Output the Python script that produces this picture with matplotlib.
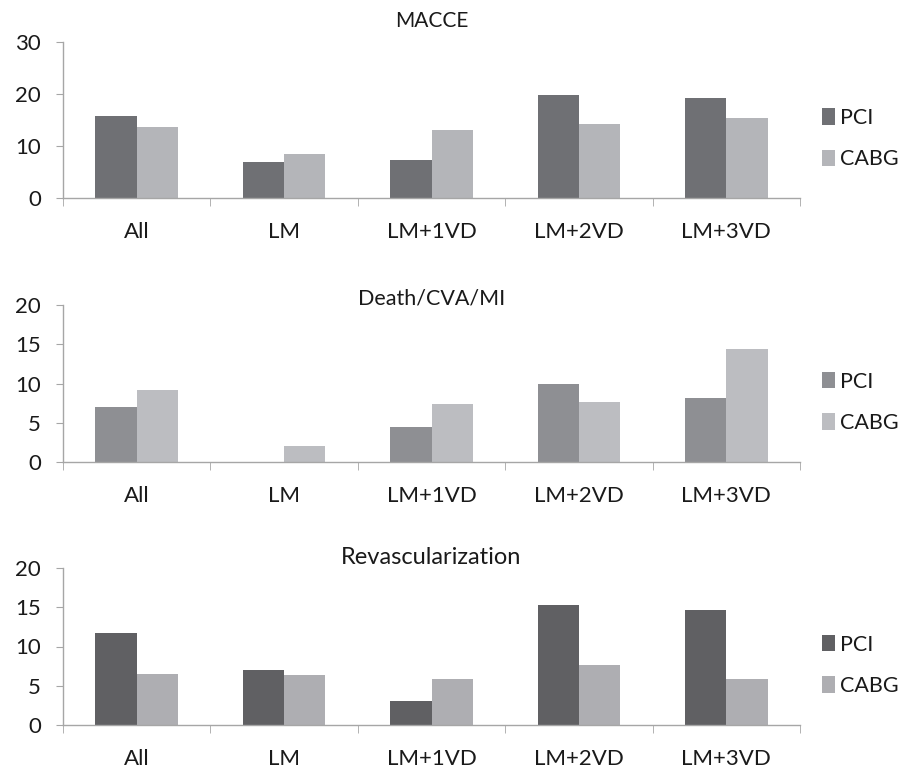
import matplotlib
matplotlib.use("Agg")
import matplotlib.pyplot as plt
import numpy as np

plt.rcParams['font.family'] = ['Lato', 'DejaVu Sans']

# data
categories = ['All', 'LM', 'LM+1VD', 'LM+2VD', 'LM+3VD']

macce_pci = [15.8, 7.0, 7.4, 19.8, 19.3]
macce_cabg = [13.6, 8.4, 13.1, 14.3, 15.4]

death_pci = [7.0, 0.0, 4.45, 9.9, 8.1]
death_cabg = [9.15, 2.1, 7.4, 7.6, 14.4]

revasc_pci = [11.7, 7.0, 3.0, 15.3, 14.7]
revasc_cabg = [6.5, 6.4, 5.8, 7.6, 5.9]

panels = [
    ('MACCE', macce_pci, macce_cabg, 30, 10, '#6f7074', '#b4b5b9', 42, 198, 21, 15),
    ('Death/CVA/MI', death_pci, death_cabg, 20, 5, '#8e8f93', '#bcbdc1', 305, 462, 299, 15.5),
    ('Revascularization', revasc_pci, revasc_cabg, 20, 5, '#606063', '#aeaeb2', 568, 725, 558, 17),
]

W, H = 908, 773
fig = plt.figure(figsize=(W / 100, H / 100), dpi=100)

x = np.arange(len(categories))
bw = 0.28
axis_col = '#a6a6a6'

for title, pci, cabg, ymax, ystep, c1, c2, ytop, ybot, ytitle, tsize in panels:
    left, right = 63, 800
    ax = fig.add_axes([left / W, 1 - ybot / H, (right - left) / W, (ybot - ytop) / H])
    ax.bar(x - bw / 2, pci, bw, color=c1, label='PCI')
    ax.bar(x + bw / 2, cabg, bw, color=c2, label='CABG')
    ax.set_xlim(-0.5, len(categories) - 0.5)
    ax.set_ylim(0, ymax)
    ax.set_yticks(np.arange(0, ymax + 1, ystep))
    ax.set_xticks(x)
    ax.set_xticklabels(categories)
    ax.set_xticks(np.arange(-0.5, len(categories)), minor=True)
    ax.tick_params(axis='x', which='major', length=0, pad=17, labelsize=16, labelcolor='#1a1a1a')
    ax.tick_params(axis='x', which='minor', length=6, color=axis_col, direction='out')
    ax.tick_params(axis='y', length=5, color=axis_col, pad=11, labelsize=16, labelcolor='#1a1a1a')
    for s in ['top', 'right']:
        ax.spines[s].set_visible(False)
    for s in ['left', 'bottom']:
        ax.spines[s].set_color(axis_col)
        ax.spines[s].set_linewidth(1)
    ax.text(0.5, (ybot - ytitle) / (ybot - ytop), title, transform=ax.transAxes,
            ha='center', va='center', fontsize=tsize, color='#1a1a1a')
    ax.legend(loc='center left', bbox_to_anchor=(1.03, 0.38), bbox_transform=ax.transAxes,
              frameon=False, borderpad=0, borderaxespad=0,
              handlelength=0.6, handleheight=0.8, handletextpad=0.25,
              labelspacing=1.0, fontsize=15.5, labelcolor='#1a1a1a')

fig.savefig('out.png', dpi=100)
